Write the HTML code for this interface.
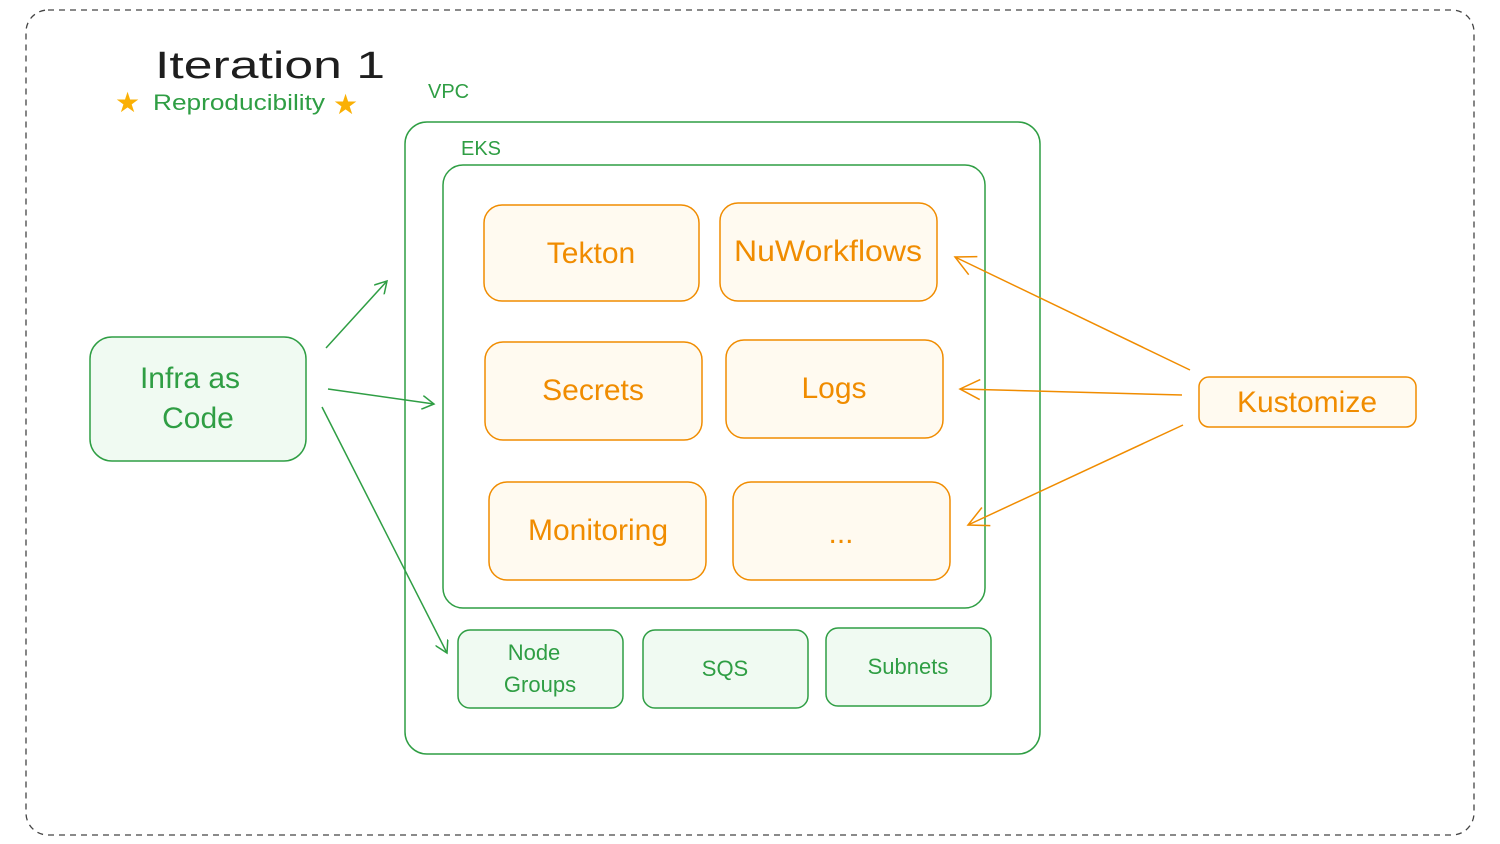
<!DOCTYPE html>
<html><head><meta charset="utf-8"><style>
html,body{margin:0;padding:0;background:#fff;}
svg{display:block}
text{font-family:"Liberation Sans",sans-serif;}
</style></head><body>
<svg width="1500" height="844" viewBox="0 0 1500 844" xmlns="http://www.w3.org/2000/svg">
<defs>
<marker id="ag" markerWidth="14" markerHeight="14" refX="12" refY="7" orient="auto" markerUnits="userSpaceOnUse"><path d="M0,0 L12,7 L0,14" fill="none" stroke="#2f9e44" stroke-width="1.5"/></marker>
<marker id="ao" markerWidth="24" markerHeight="24" refX="22" refY="12" orient="auto" markerUnits="userSpaceOnUse"><path d="M2,2 L22,12 L2,22" fill="none" stroke="#f08c00" stroke-width="1.5"/></marker>
</defs>
<rect x="26" y="10" width="1448" height="825" rx="22" fill="none" stroke="#444" stroke-width="1.3" stroke-dasharray="6,5"/>
<text x="155" y="78" font-size="38" fill="#1e1e1e" textLength="230" lengthAdjust="spacingAndGlyphs">Iteration 1</text>
<text x="115" y="112" font-size="28" fill="#fab005">★</text>
<text x="153" y="110" font-size="22" fill="#2f9e44" textLength="172" lengthAdjust="spacingAndGlyphs">Reproducibility</text>
<text x="333" y="114" font-size="28" fill="#fab005">★</text>
<text x="428" y="98" font-size="20" fill="#2f9e44">VPC</text>
<rect x="405" y="122" width="635" height="632" rx="22" fill="none" stroke="#2f9e44" stroke-width="1.5"/>
<text x="461" y="155" font-size="20" fill="#2f9e44">EKS</text>
<rect x="443" y="165" width="542" height="443" rx="20" fill="none" stroke="#2f9e44" stroke-width="1.5"/>
<g fill="#fffaf0" stroke="#f08c00" stroke-width="1.5">
<rect x="484" y="205" width="215" height="96" rx="18"/>
<rect x="720" y="203" width="217" height="98" rx="18"/>
<rect x="485" y="342" width="217" height="98" rx="18"/>
<rect x="726" y="340" width="217" height="98" rx="18"/>
<rect x="489" y="482" width="217" height="98" rx="18"/>
<rect x="733" y="482" width="217" height="98" rx="18"/>
<rect x="1199" y="377" width="217" height="50" rx="10"/>
</g>
<g fill="#f08c00" font-size="30" text-anchor="middle">
<text x="591" y="263">Tekton</text>
<text x="828" y="261" textLength="188" lengthAdjust="spacingAndGlyphs">NuWorkflows</text>
<text x="593" y="400">Secrets</text>
<text x="834" y="398">Logs</text>
<text x="598" y="540">Monitoring</text>
<text x="841" y="543">...</text>
<text x="1307" y="412">Kustomize</text>
</g>
<g fill="#f0faf2" stroke="#2f9e44" stroke-width="1.5">
<rect x="90" y="337" width="216" height="124" rx="22"/>
<rect x="458" y="630" width="165" height="78" rx="12"/>
<rect x="643" y="630" width="165" height="78" rx="12"/>
<rect x="826" y="628" width="165" height="78" rx="12"/>
</g>
<g fill="#2f9e44" text-anchor="middle">
<text x="190" y="388" font-size="30">Infra as</text>
<text x="198" y="428" font-size="30">Code</text>
<text x="534" y="660" font-size="22">Node</text>
<text x="540" y="692" font-size="22">Groups</text>
<text x="725" y="676" font-size="22">SQS</text>
<text x="908" y="674" font-size="22">Subnets</text>
</g>
<g stroke="#2f9e44" stroke-width="1.5" fill="none">
<line x1="326" y1="348" x2="387" y2="281" marker-end="url(#ag)"/>
<line x1="328" y1="389" x2="434" y2="404" marker-end="url(#ag)"/>
<line x1="322" y1="407" x2="447" y2="653" marker-end="url(#ag)"/>
</g>
<g stroke="#f08c00" stroke-width="1.5" fill="none">
<line x1="1190" y1="370" x2="955" y2="257" marker-end="url(#ao)"/>
<line x1="1182" y1="395" x2="960" y2="389" marker-end="url(#ao)"/>
<line x1="1183" y1="425" x2="968" y2="525" marker-end="url(#ao)"/>
</g>
</svg>
</body></html>
